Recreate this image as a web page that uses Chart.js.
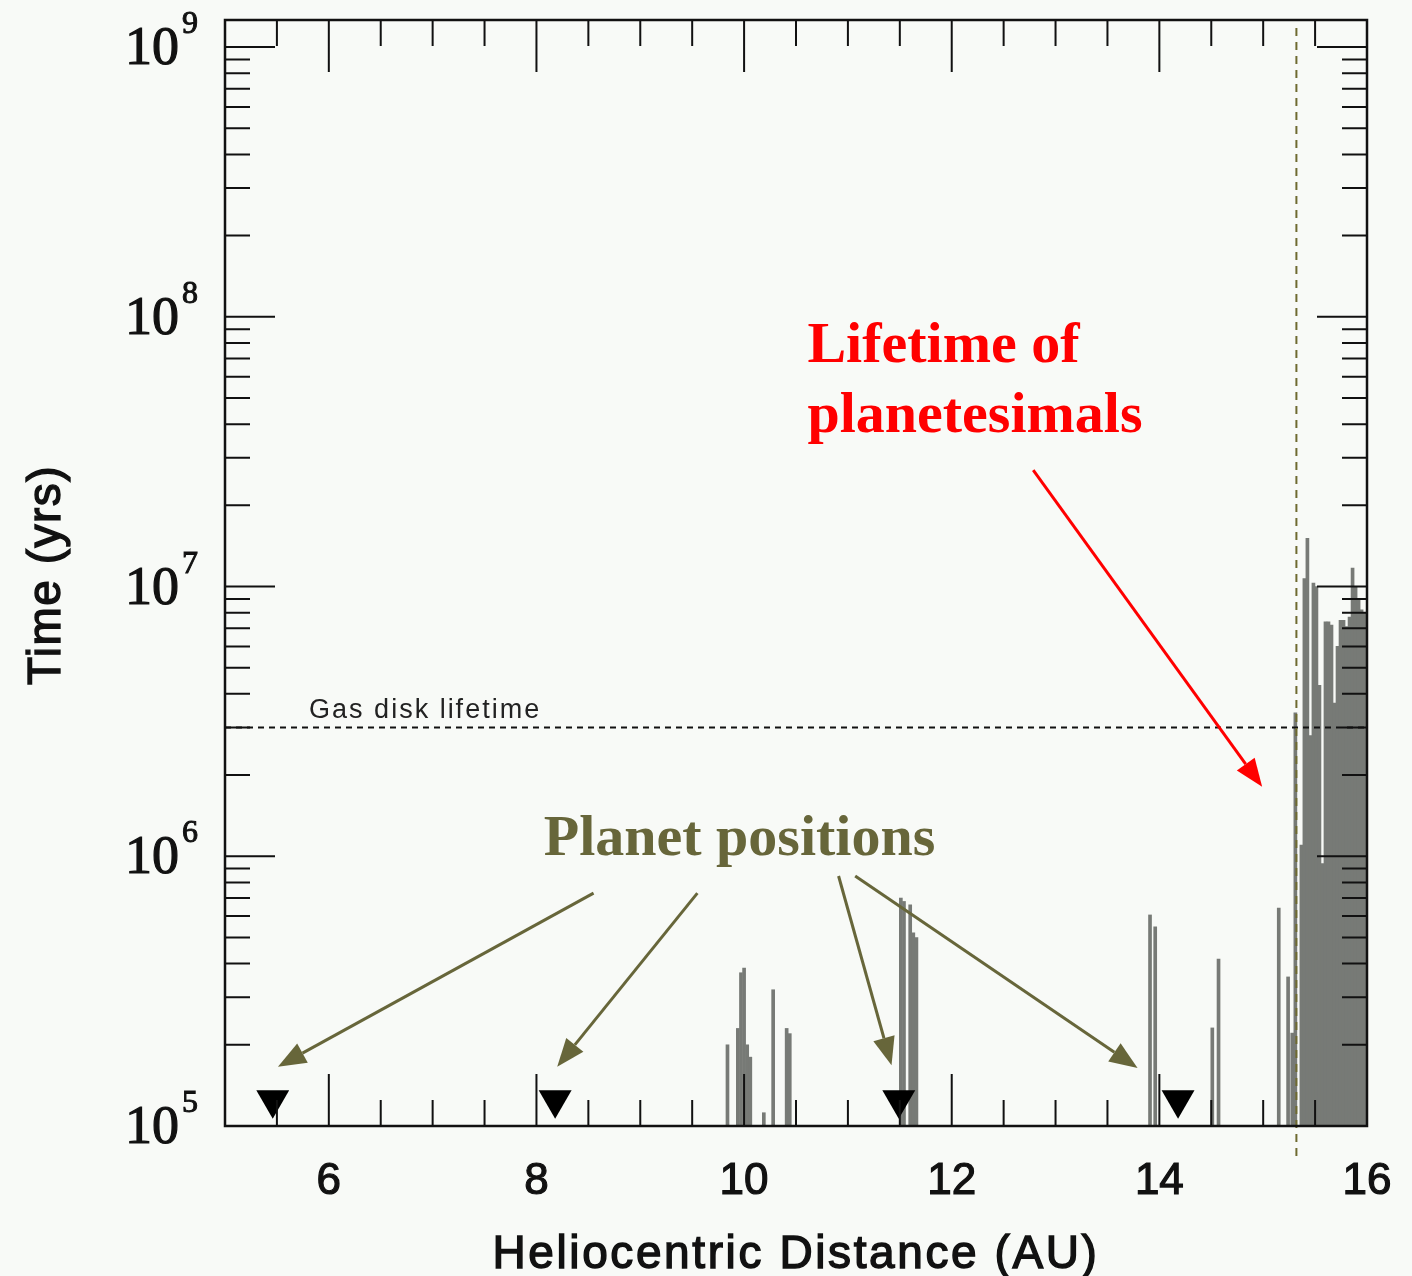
<!DOCTYPE html>
<html>
<head>
<meta charset="utf-8">
<title>Lifetime of planetesimals</title>
<script src="https://cdn.jsdelivr.net/npm/chart.js@4.4.1/dist/chart.umd.min.js"></script>
<style>
  html, body { margin: 0; padding: 0; background: #f8faf7; }
  canvas { display: block; }
</style>
</head>
<body>
<canvas id="chart" width="1412" height="1276"></canvas>
<script>
// Histogram bins: heliocentric distance (AU) and lifetime of planetesimals (yrs)
const distances = [
  9.84, 9.94, 9.97, 10.0, 10.03, 10.06, 10.19, 10.28, 10.41, 10.44,
  11.51, 11.54, 11.6, 11.63, 11.66,
  13.91, 13.96, 14.51, 14.57,
  15.15, 15.24, 15.28, 15.31,
  15.368, 15.397, 15.426, 15.455, 15.484, 15.513, 15.542, 15.571, 15.6, 15.629,
  15.658, 15.687, 15.716, 15.745, 15.774, 15.803, 15.832, 15.861, 15.89, 15.919,
  15.948, 15.977
];
const lifetimes = [
  2.0e5, 2.3e5, 3.7e5, 3.85e5, 2.0e5, 1.8e5, 1.12e5, 3.2e5, 2.3e5, 2.2e5,
  7.0e5, 6.8e5, 6.6e5, 5.2e5, 5.0e5,
  6.06e5, 5.47e5, 2.31e5, 4.16e5,
  6.43e5, 3.57e5, 2.21e5, 3.4e6,
  1.1e6, 1.07e7, 1.51e7, 2.8e6, 1.03e7, 1.0e7, 4.3e6, 9.4e5, 7.4e6, 7.4e6,
  7.2e6, 3.7e6, 6.0e6, 7.5e6, 7.5e6, 7.1e6, 7.7e6, 1.17e7, 1.0e7, 9.0e6,
  8.2e6, 8.0e6
];

// Planet positions (AU), marked with down-pointing triangles
const planetDistances = [5.46, 8.18, 11.49, 14.18];
const planetMarkerTime = 1.25e5;

// Reference lines
const gasDiskLifetime = 3e6;
const gasEdgeDistance = 15.32;

// Axes
const xRange = [5.0, 16.0];
const yRange = [1e5, 1.26e9];
const xTickLabels = [6, 8, 10, 12, 14, 16];
const yDecades = [5, 6, 7, 8, 9];

const OLIVE = '#67663a';
const RED = '#ff0000';
const INK = '#111';

function arrow(ctx, x1, y1, x2, y2, color) {
  const ang = Math.atan2(y2 - y1, x2 - x1);
  const head = 28, half = 11;
  const bx = x2 - head * Math.cos(ang), by = y2 - head * Math.sin(ang);
  ctx.strokeStyle = color;
  ctx.fillStyle = color;
  ctx.lineWidth = 3;
  ctx.beginPath();
  ctx.moveTo(x1, y1);
  ctx.lineTo(bx, by);
  ctx.stroke();
  ctx.beginPath();
  ctx.moveTo(x2, y2);
  ctx.lineTo(bx + half * Math.sin(ang), by - half * Math.cos(ang));
  ctx.lineTo(bx - half * Math.sin(ang), by + half * Math.cos(ang));
  ctx.closePath();
  ctx.fill();
}

// text drawn a little heavier, like the old bitmap plot fonts
function heavyText(ctx, text, x, y, weight) {
  ctx.lineWidth = weight;
  ctx.strokeStyle = ctx.fillStyle;
  ctx.strokeText(text, x, y);
  ctx.fillText(text, x, y);
}

// Frame, inward ticks, labels and annotations
const idlFrame = {
  id: 'idlFrame',
  afterDatasetsDraw(chart) {
    const { ctx, chartArea: a, scales: { x, y } } = chart;
    const X = v => x.getPixelForValue(v);
    const Y = v => y.getPixelForValue(v);
    ctx.save();

    // vertical dashed line at the edge of the gas
    ctx.strokeStyle = '#6e6a30';
    ctx.lineWidth = 2;
    ctx.setLineDash([8, 6]);
    ctx.beginPath();
    ctx.moveTo(X(gasEdgeDistance), a.top + 8);
    ctx.lineTo(X(gasEdgeDistance), a.bottom + 34);
    ctx.stroke();
    ctx.setLineDash([]);

    // ticks
    ctx.strokeStyle = INK;
    ctx.lineWidth = 2;
    ctx.beginPath();
    for (let v = 5.5; v < 16; v += 0.5) {
      const len = v % 2 === 0 ? 52 : 26;
      const px = X(v);
      ctx.moveTo(px, a.bottom); ctx.lineTo(px, a.bottom - len);
      ctx.moveTo(px, a.top); ctx.lineTo(px, a.top + len);
    }
    yDecades.forEach(d => {
      for (let m = 1; m <= 9; m++) {
        const v = m * Math.pow(10, d);
        if (v > yRange[1]) break;
        const len = m === 1 ? 50 : 25;
        const py = Y(v);
        ctx.moveTo(a.left, py); ctx.lineTo(a.left + len, py);
        ctx.moveTo(a.right, py); ctx.lineTo(a.right - len, py);
      }
    });
    ctx.stroke();
    ctx.lineWidth = 2.5;
    ctx.strokeRect(a.left, a.top, a.right - a.left, a.bottom - a.top);

    // tick labels
    ctx.fillStyle = INK;
    ctx.font = '44px "Liberation Sans", Arial, sans-serif';
    ctx.textAlign = 'center';
    ctx.textBaseline = 'alphabetic';
    xTickLabels.forEach(v => heavyText(ctx, String(v), X(v), a.bottom + 68, 1.2));
    yDecades.forEach(d => {
      const py = Y(Math.pow(10, d));
      ctx.textAlign = 'right';
      ctx.font = '54px "Liberation Serif", "Times New Roman", serif';
      heavyText(ctx, '10', a.left - 46, py + 17, 1.2);
      ctx.textAlign = 'left';
      ctx.font = '32px "Liberation Serif", "Times New Roman", serif';
      heavyText(ctx, String(d), a.left - 43, py - 14, 1);
    });

    // axis titles
    ctx.font = '46px "Liberation Sans", Arial, sans-serif';
    ctx.letterSpacing = '2.6px';
    ctx.textAlign = 'center';
    heavyText(ctx, 'Heliocentric Distance (AU)', 796, a.bottom + 142, 1.4);
    ctx.save();
    ctx.translate(60, 575);
    ctx.rotate(-Math.PI / 2);
    ctx.letterSpacing = '1.5px';
    heavyText(ctx, 'Time (yrs)', 0, 0, 1.4);
    ctx.restore();

    // gas disk label
    ctx.font = '27px "Liberation Sans", Arial, sans-serif';
    ctx.letterSpacing = '2px';
    ctx.textAlign = 'left';
    ctx.fillStyle = '#222';
    ctx.fillText('Gas disk lifetime', X(5.81), Y(3.25e6));
    ctx.letterSpacing = '0px';

    // annotations
    ctx.font = 'bold 58px "Liberation Serif", "Times New Roman", serif';
    ctx.fillStyle = RED;
    ctx.fillText('Lifetime of', X(10.61), Y(6.8e7));
    ctx.fillText('planetesimals', X(10.61), Y(3.74e7));
    arrow(ctx, X(12.785), Y(2.7e7), X(14.99), Y(1.81e6), RED);

    ctx.fillStyle = OLIVE;
    ctx.fillText('Planet positions', X(8.07), Y(1.01e6));
    arrow(ctx, X(8.55), Y(7.3e5), X(5.51), Y(1.66e5), OLIVE);
    arrow(ctx, X(9.55), Y(7.3e5), X(8.2), Y(1.66e5), OLIVE);
    arrow(ctx, X(10.91), Y(8.45e5), X(11.42), Y(1.68e5), OLIVE);
    arrow(ctx, X(11.07), Y(8.45e5), X(13.79), Y(1.64e5), OLIVE);

    ctx.restore();
  }
};

new Chart(document.getElementById('chart'), {
  type: 'bar',
  data: {
    datasets: [
      {
        type: 'scatter',
        data: planetDistances.map(d => ({ x: d, y: planetMarkerTime })),
        pointStyle: 'triangle',
        rotation: 180,
        radius: 19,
        backgroundColor: '#000',
        borderWidth: 0
      },
      {
        type: 'line',
        data: [{ x: xRange[0], y: gasDiskLifetime }, { x: xRange[1], y: gasDiskLifetime }],
        borderColor: INK,
        borderWidth: 2,
        borderDash: [6, 5],
        pointRadius: 0
      },
      {
        type: 'bar',
        data: distances.map((d, i) => ({ x: d, y: lifetimes[i] })),
        backgroundColor: '#777a76',
        borderWidth: 0,
        barPercentage: 1,
        categoryPercentage: 1
      }
    ]
  },
  options: {
    responsive: false,
    animation: false,
    layout: { padding: { left: 225, right: 45, top: 20, bottom: 150 } },
    plugins: { legend: { display: false }, tooltip: { enabled: false } },
    scales: {
      x: { type: 'linear', min: xRange[0], max: xRange[1], display: false, offset: false },
      y: { type: 'logarithmic', min: yRange[0], max: yRange[1], display: false }
    }
  },
  plugins: [idlFrame]
});
</script>
</body>
</html>
